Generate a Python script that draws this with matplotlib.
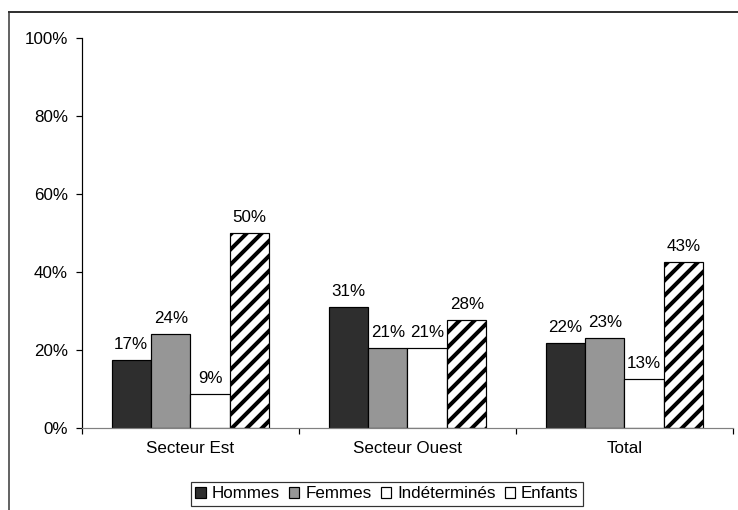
import matplotlib
matplotlib.use("Agg")
import matplotlib.pyplot as plt
from matplotlib.patches import Patch
from matplotlib.lines import Line2D
import numpy as np

categories = ["Secteur Est", "Secteur Ouest", "Total"]
series_names = ["Hommes", "Femmes", "Indéterminés", "Enfants"]
hommes = [17.4, 31.0, 21.8]
femmes = [24.1, 20.6, 23.1]
indetermines = [8.6, 20.6, 12.6]
enfants = [50.0, 27.6, 42.6]
yticks = [0, 20, 40, 60, 80, 100]

DPI = 90
W, H = 739, 510

def px(x):
    return x * 72.0 / DPI

plt.rcParams['font.family'] = ['Liberation Sans', 'DejaVu Sans']
plt.rcParams['hatch.linewidth'] = px(4.0)
plt.rcParams['hatch.color'] = '#1a1a1a'

fig = plt.figure(figsize=(W / DPI, H / DPI), dpi=DPI)
fs = px(17.0)

ax = fig.add_axes([82 / W, (H - 428) / H, (733 - 82) / W, (428 - 38) / H])

series = [hommes, femmes, indetermines, enfants]
colors = ["#2e2e2e", "#969696", "#ffffff", "#ffffff"]
hatches = [None, None, None, "//"]
w = 0.182
x = np.arange(len(categories))
for i, (vals, c, h) in enumerate(zip(series, colors, hatches)):
    bars = ax.bar(x + (i - 1.5) * w, vals, width=w, color=c, edgecolor="black",
                  linewidth=px(1.2), hatch=h, zorder=2)
    ax.bar_label(bars, labels=[f"{int(v + 0.5)}%" for v in vals],
                 padding=px(8), fontsize=fs, color="black")

ax.set_xlim(-0.5, 2.5)
ax.set_ylim(0, 100)
ax.set_yticks(yticks)
ax.set_yticklabels([f"{t}%" for t in yticks], fontsize=fs)
ax.set_xticks(x)
ax.set_xticklabels(categories, fontsize=fs)
ax.set_xticks([-0.5, 0.5, 1.5, 2.5], minor=True)
ax.tick_params(axis='x', which='major', length=0, pad=px(13))
ax.tick_params(axis='x', which='minor', length=px(6), width=px(1.2), direction='out', color='black')
ax.tick_params(axis='y', length=px(6), width=px(1.2), direction='out', pad=px(8), color='black')
for s in ["top", "right"]:
    ax.spines[s].set_visible(False)
ax.spines["left"].set_color("black")
ax.spines["left"].set_linewidth(px(1.2))
ax.spines["bottom"].set_color("#808080")
ax.spines["bottom"].set_linewidth(px(1.2))

handles = [Patch(facecolor=c, edgecolor="black", linewidth=px(1.2)) for c in colors]
leg = ax.legend(handles, series_names, loc="center", bbox_to_anchor=(387 / W, (H - 494) / H),
                bbox_transform=fig.transFigure, ncol=4, frameon=True, fancybox=False,
                fontsize=fs, handlelength=0.6, handleheight=0.6, handletextpad=0.35,
                columnspacing=0.55, borderpad=0.25, borderaxespad=0)
leg.get_frame().set_edgecolor("black")
leg.get_frame().set_linewidth(px(1.2))

# figure border (top and left visible)
fig.add_artist(Line2D([9 / W, 1.0], [1 - 12 / H, 1 - 12 / H], transform=fig.transFigure,
                      color="#333333", linewidth=px(2)))
fig.add_artist(Line2D([9 / W, 9 / W], [0.0, 1 - 12 / H], transform=fig.transFigure,
                      color="#333333", linewidth=px(1.5)))

fig.savefig("out.png", dpi=DPI)
